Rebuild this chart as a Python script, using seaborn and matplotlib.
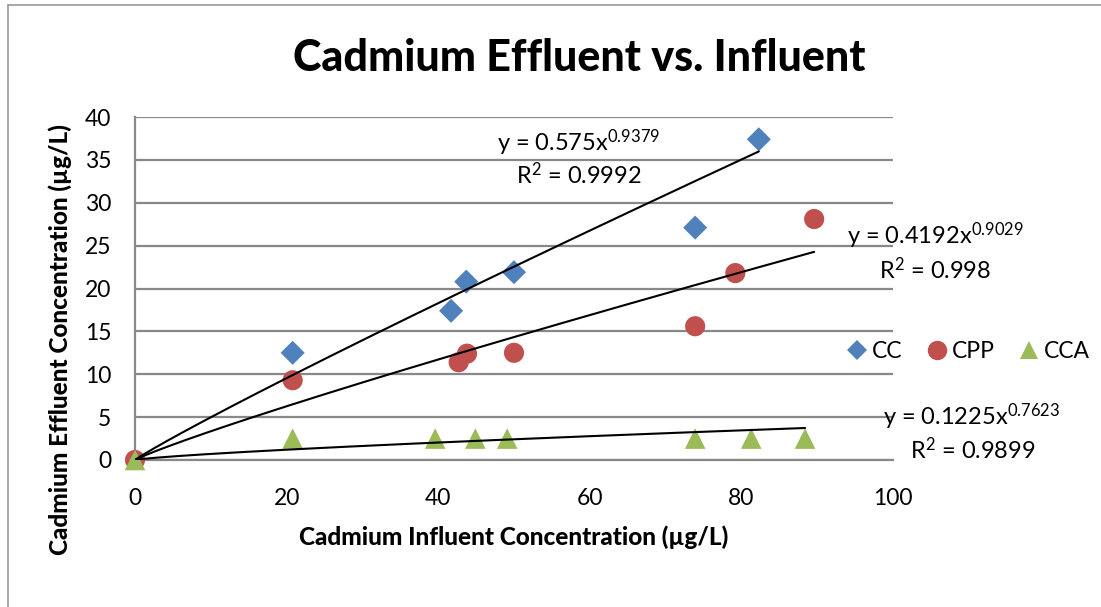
import numpy as np
import pandas as pd
import matplotlib
matplotlib.use("Agg")
import matplotlib.pyplot as plt
import seaborn as sns
from matplotlib.lines import Line2D

# ---- data ----
cc_x = [20.8, 41.7, 43.7, 50.0, 73.9, 82.3]
cc_y = [12.5, 17.4, 20.8, 21.9, 27.1, 37.4]
cpp_x = [0, 20.8, 42.7, 43.8, 50.0, 73.9, 79.2, 89.6]
cpp_y = [0, 9.3, 11.4, 12.4, 12.5, 15.6, 21.8, 28.1]
cca_x = [0, 20.8, 39.6, 44.9, 49.1, 73.9, 81.3, 88.4]
cca_y = [0, 2.5, 2.5, 2.5, 2.5, 2.5, 2.5, 2.5]

series_names = ["CC", "CPP", "CCA"]
fit_a = [0.575, 0.4192, 0.1225]
fit_b = [0.9379, 0.9029, 0.7623]
fit_r2 = ["0.9992", "0.998", "0.9899"]
fit_a_txt = ["0.575", "0.4192", "0.1225"]
fit_b_txt = ["0.9379", "0.9029", "0.7623"]

x_ticks = [0, 20, 40, 60, 80, 100]
y_ticks = [0, 5, 10, 15, 20, 25, 30, 35, 40]

title = "Cadmium Effluent vs. Influent"
xlabel = "Cadmium Influent Concentration (µg/L)"
ylabel = "Cadmium Effluent Concentration (µg/L)"

# ---- style ----
sns.set_theme(style="white")
FONT = "Lato"
plt.rcParams["font.family"] = [FONT, "DejaVu Sans"]
plt.rcParams["mathtext.fontset"] = "custom"
plt.rcParams["mathtext.rm"] = FONT
plt.rcParams["mathtext.it"] = FONT
plt.rcParams["text.color"] = "black"

colors = ["#4F81BD", "#C0504D", "#9BBB59"]
markers = ["D", "o", "^"]
sizes = [150, 210, 220]
grid_c = "#888888"

df = pd.concat([
    pd.DataFrame({"x": cc_x, "y": cc_y, "s": "CC"}),
    pd.DataFrame({"x": cpp_x, "y": cpp_y, "s": "CPP"}),
    pd.DataFrame({"x": cca_x, "y": cca_y, "s": "CCA"}),
], ignore_index=True)

fig = plt.figure(figsize=(11.01, 6.07), dpi=100)
ax = fig.add_axes([135/1101, 1-460/607, (893-135)/1101, (460-117)/607])

ax.set_xlim(0, 100)
ax.set_ylim(0, 40)
ax.set_yticks(y_ticks)
ax.set_xticks(x_ticks)
for yt in y_ticks:
    ax.axhline(yt, color=grid_c, lw=1.6, zorder=0)

for name, c, m, s in zip(series_names, colors, markers, sizes):
    sub = df[df.s == name]
    sns.scatterplot(data=sub, x="x", y="y", ax=ax, color=c, marker=m, s=s,
                    edgecolor="none", linewidth=0, clip_on=False, zorder=3,
                    legend=False)

# trendlines (drawn over the markers)
for name, a, b in zip(series_names, fit_a, fit_b):
    xmax = df.loc[df.s == name, "x"].max()
    xs = np.linspace(0, xmax, 200)
    ax.plot(xs, a * xs ** b, color="black", lw=1.5, zorder=4)

for sp in ["top", "right"]:
    ax.spines[sp].set_visible(False)
for sp in ["left", "bottom"]:
    ax.spines[sp].set_color(grid_c)
    ax.spines[sp].set_linewidth(1.6)
ax.tick_params(axis="both", length=0, labelsize=16.5, colors="black")
ax.tick_params(axis="y", pad=17)
ax.tick_params(axis="x", pad=20)
ax.set_xlabel("")
ax.set_ylabel("")

# labels
fig.text(579/1101, 1-58/607, title, ha="center", va="center",
         fontsize=31, fontweight="black")
fig.text(514/1101, 1-537/607, xlabel, ha="center", va="center",
         fontsize=17.5, fontweight="black")
fig.text(60/1101, 1-340/607, ylabel, ha="center", va="center",
         fontsize=17.5, fontweight="black", rotation=90)

# equations
eq_pos = [((579, 143), (579, 175)), ((935, 236), (935, 270)), ((972, 417), (973, 450))]
for (p1, p2), at, bt, r2 in zip(eq_pos, fit_a_txt, fit_b_txt, fit_r2):
    fig.text(p1[0]/1101, 1-p1[1]/607, "y = " + at + "x$^{" + bt + "}$",
             ha="center", va="center", fontsize=17)
    fig.text(p2[0]/1101, 1-p2[1]/607, "R$^{2}$ = " + r2,
             ha="center", va="center", fontsize=17)

# legend
handles = [Line2D([], [], ls="none", marker=m, color=c, markeredgewidth=0,
                  markersize=ms) for m, c, ms in zip(markers, colors, [10, 14, 13])]
fig.legend(handles, series_names, loc="center", bbox_to_anchor=(968/1101, 1-352/607),
           ncol=3, frameon=False, fontsize=16.5, handletextpad=0.15,
           columnspacing=1.0, handlelength=1.0)

# outer border (left and top)
fig.add_artist(Line2D([8/1101, 8/1101], [0, 1-5/607], transform=fig.transFigure,
                      color="#999999", lw=1.2))
fig.add_artist(Line2D([8/1101, 1], [1-5/607, 1-5/607], transform=fig.transFigure,
                      color="#999999", lw=1.2))

fig.savefig("out.png", dpi=100)
